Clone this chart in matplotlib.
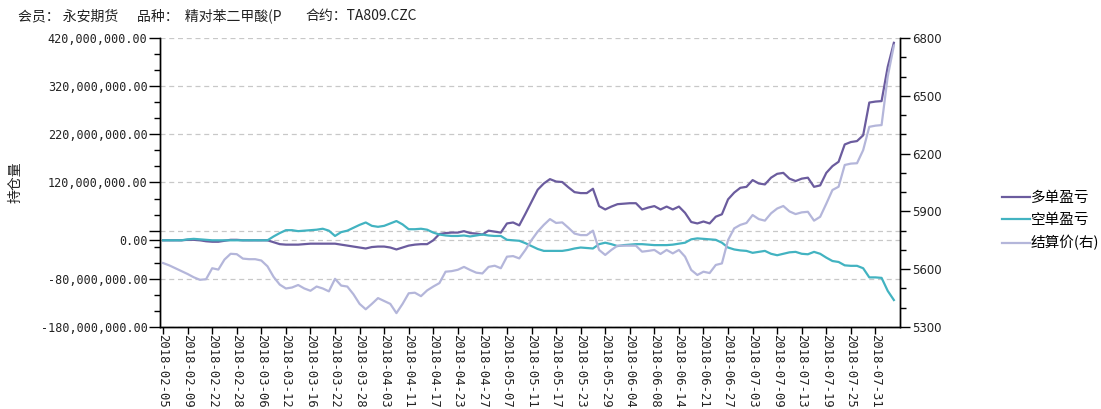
import matplotlib
matplotlib.use("Agg")
import matplotlib.pyplot as plt
from matplotlib.ticker import FixedLocator, MultipleLocator
import pandas as pd

plt.rcParams['font.family'] = ['Noto Sans CJK SC', 'DejaVu Sans']

purple = "#6b5c9e"
teal = "#42b3c1"
lilac = "#b4b6da"

# trading days (exchange holidays removed)
holidays = ["2018-02-15", "2018-02-16", "2018-02-19", "2018-02-20", "2018-02-21",
            "2018-04-05", "2018-04-06", "2018-04-30", "2018-05-01", "2018-06-18"]
dates = pd.bdate_range("2018-02-05", "2018-08-03")
dates = dates[~dates.isin(pd.to_datetime(holidays))]

# 多单盈亏, millions
long_pnl = [0, 0, 0, 0, 1, 1, 0, -2, -3, -3, -1, 1, 1, 0, 0, 0, 0, 0, -4, -8,
            -9, -9, -9, -8, -7, -7, -7, -7, -7, -9, -11, -13, -15, -17, -14, -13, -13, -15, -19, -15,
            -11, -9, -8, -8, 0, 13, 15, 16, 16, 19, 15, 14, 12, 20, 18, 16, 35, 37, 31, 55,
            80, 105, 118, 127, 122, 121, 110, 100, 98, 98, 107, 71, 64, 70, 75, 76, 77, 77, 64, 68,
            71, 64, 70, 64, 70, 57, 38, 35, 39, 35, 49, 54, 85, 99, 109, 111, 125, 118, 116, 130,
            138, 140, 128, 123, 128, 130, 111, 114, 140, 154, 163, 199, 204, 206, 218, 286, 288, 289, 360, 410]

# 空单盈亏, millions
short_pnl = [0, 0, 0, 0, 2, 3, 2, 1, 0, 0, 0, 0, 0, 0, 0, 0, 0, 0, 8, 15,
             21, 21, 19, 20, 21, 22, 24, 20, 9, 17, 20, 26, 32, 37, 30, 28, 30, 35, 40, 33,
             23, 23, 24, 22, 16, 12, 10, 9, 9, 10, 8, 10, 12, 10, 9, 9, 1, 0, -1, -6,
             -12, -18, -22, -22, -22, -22, -20, -17, -15, -16, -17, -8, -5, -8, -12, -10, -9, -8, -8, -9,
             -10, -10, -10, -9, -7, -5, 2, 4, 3, 2, 1, -5, -15, -19, -21, -22, -26, -24, -22, -28,
             -31, -28, -25, -24, -28, -29, -24, -28, -36, -43, -45, -52, -53, -53, -58, -77, -77, -78, -105, -124]

# 结算价
settle = [5632, 5620, 5605, 5590, 5575, 5558, 5545, 5548, 5605, 5598, 5650, 5680, 5678, 5655, 5652, 5652, 5645, 5615, 5560, 5520,
          5500, 5505, 5518, 5500, 5488, 5510, 5500, 5485, 5550, 5515, 5510, 5470, 5420, 5392, 5420, 5450, 5435, 5420, 5372, 5420,
          5475, 5478, 5460, 5490, 5510, 5528, 5587, 5590, 5597, 5612, 5596, 5582, 5578, 5612, 5618, 5605, 5665, 5668, 5656, 5700,
          5751, 5795, 5830, 5860, 5840, 5843, 5815, 5785, 5777, 5777, 5800, 5700, 5674, 5700, 5722, 5722, 5722, 5722, 5691, 5695,
          5700, 5679, 5700, 5682, 5700, 5665, 5596, 5570, 5587, 5580, 5622, 5630, 5751, 5812, 5830, 5840, 5881, 5860, 5852, 5890,
          5915, 5928, 5900, 5886, 5895, 5898, 5852, 5872, 5940, 6011, 6028, 6141, 6148, 6150, 6218, 6339, 6345, 6348, 6600, 6760]

left_ticks = [-180, -80, 0, 20, 120, 220, 320, 420]
left_labels = ["-180,000,000.00", "-80,000,000.00", "0.00", "", "120,000,000.00",
               "220,000,000.00", "320,000,000.00", "420,000,000.00"]
right_ticks = [5300, 5600, 5900, 6200, 6500, 6800]

x = list(range(len(dates)))
fig = plt.figure(figsize=(11.01, 4.09), dpi=100)
ax = fig.add_axes([160 / 1101, 1 - 327 / 409, 740 / 1101, 289 / 409])

l1, = ax.plot(x, long_pnl, color=purple, lw=1.6, label="多单盈亏")
l2, = ax.plot(x, short_pnl, color=teal, lw=1.6, label="空单盈亏")
ax2 = ax.twinx()
l3, = ax2.plot(x, settle, color=lilac, lw=1.6, label="结算价(右)")

ax.set_xlim(-0.5, 120)
ax.set_ylim(-180, 420)
ax2.set_ylim(5300, 6800)

ax.yaxis.set_major_locator(FixedLocator(left_ticks))
ax.set_yticklabels(left_labels, family="DejaVu Sans Mono", fontsize=8.5, color="#222222")
ax.yaxis.set_minor_locator(FixedLocator([-180 + k * 100 / 3 for k in range(19)]))
ax.tick_params(axis="y", which="major", length=8, width=1, pad=1)
ax.tick_params(axis="y", which="minor", length=4, width=1)
for t in left_ticks:
    ax.axhline(t, color="#c8c8c8", lw=0.9, ls=(0, (4, 3)), zorder=0)

ax2.set_yticks(right_ticks)
ax2.set_yticklabels([str(t) for t in right_ticks], family="DejaVu Sans", fontsize=8.5, color="#222222")
ax2.yaxis.set_minor_locator(MultipleLocator(100))
ax2.tick_params(axis="y", which="major", length=7, width=1, pad=2)
ax2.tick_params(axis="y", which="minor", length=4, width=1)

tick_pos = x[::4]
ax.set_xticks(tick_pos)
ax.set_xticklabels([dates[i].strftime("%Y-%m-%d") for i in tick_pos], rotation=270,
                   family="DejaVu Sans Mono", fontsize=8.8, color="#222222", va="top", ha="center")
ax.tick_params(axis="x", length=5, width=1, pad=0)

for a in (ax, ax2):
    a.spines["top"].set_visible(False)
    for s in ("left", "right", "bottom"):
        a.spines[s].set_color("black")
        a.spines[s].set_linewidth(1)

ax.set_ylabel("持仓量", fontsize=10, color="#222222")
ax.yaxis.set_label_coords(-137 / 740, 0.5)

fig.text(18 / 1101, 1 - 20 / 409, "会员： 永安期货", fontsize=10, color="#222222", va="baseline")
fig.text(137 / 1101, 1 - 20 / 409, "品种：  精对苯二甲酸(P", fontsize=10, color="#222222", va="baseline")
fig.text(305 / 1101, 1 - 20 / 409, "合约：TA809.CZC", fontsize=10, color="#222222", va="baseline")

fig.legend(handles=[l1, l2, l3], loc="center left", bbox_to_anchor=(1002 / 1101, 1 - 221 / 409),
           frameon=False, fontsize=10.5, handlelength=1.9, handletextpad=0.05,
           borderpad=0, borderaxespad=0, labelspacing=0.55)

fig.savefig("out.png", dpi=100)
